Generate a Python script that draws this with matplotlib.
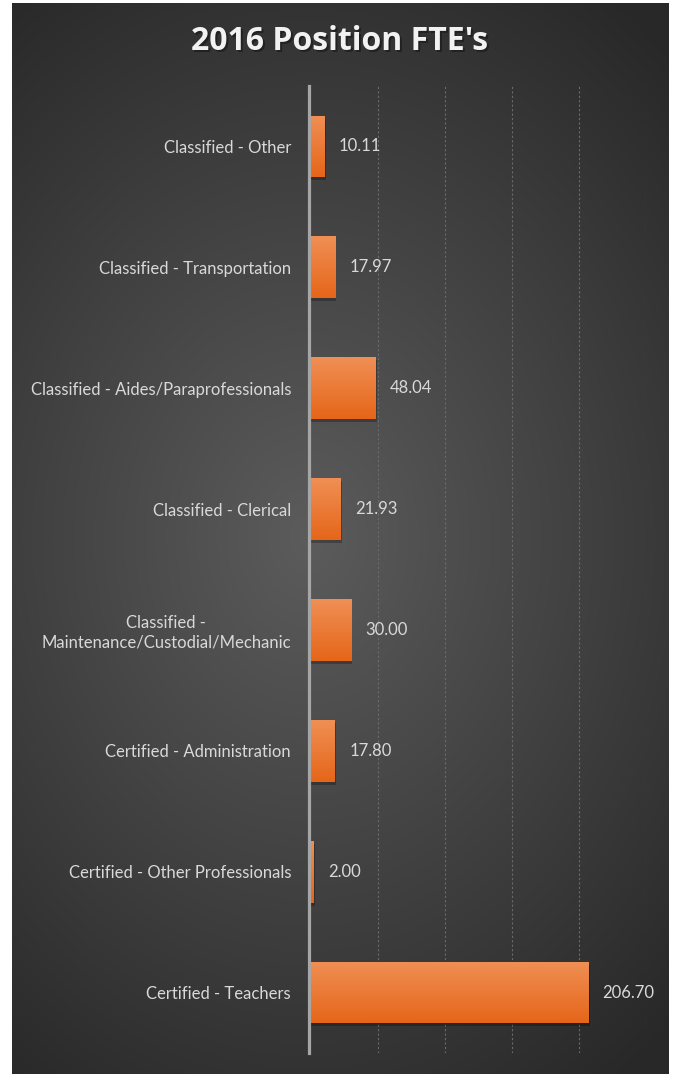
import matplotlib.pyplot as plt
import numpy as np

# data (bottom to top as drawn)
categories = ['Certified - Teachers', 'Certified - Other Professionals', 'Certified - Administration',
              'Classified -\nMaintenance/Custodial/Mechanic', 'Classified - Clerical',
              'Classified - Aides/Paraprofessionals', 'Classified - Transportation', 'Classified - Other']
fte = [206.70, 2.00, 17.80, 30.00, 21.93, 48.04, 17.97, 10.11]
grid_ticks = [50, 100, 150, 200, 250]

W, H = 675, 1074
fig = plt.figure(figsize=(W / 100, H / 100), dpi=100)
fig.patch.set_facecolor('white')

# dark panel with radial gradient
bg = fig.add_axes([12 / W, 0, (669 - 12) / W, (1074 - 3) / H])
bg.set_axis_off()
yy, xx = np.mgrid[0:1:400j, 0:1:250j]
r = np.sqrt(((xx - 0.45) / 0.8) ** 2 + ((yy - 0.5) / 0.62) ** 2)
r = np.clip(r, 0, 1)
shade = 0.36 - 0.20 * r
bg.imshow(np.dstack([shade, shade, shade]), aspect='auto', extent=[0, 1, 0, 1])
bg.set_xlim(0, 1)
bg.set_ylim(0, 1)

title = "2016 Position FTE's"
fig.text(0.503 + 2 / W, 1 - 44 / H, title, ha='center', va='center', fontsize=23,
         fontweight='bold', color='#1a1a1a', family='Open Sans', alpha=0.7)
fig.text(0.503, 1 - 42 / H, title, ha='center', va='center', fontsize=23,
         fontweight='bold', color='#f2f2f2', family='Open Sans')

# plot area
x0, x1 = 310.5, 646
y0, y1 = 86, 1053
ax = fig.add_axes([x0 / W, 1 - y1 / H, (x1 - x0) / W, (y1 - y0) / H])
ax.patch.set_alpha(0)

for g in grid_ticks:
    ax.axvline(g, color='#6a6a6a', lw=0.8, ls=(0, (2, 2)), zorder=1)

h = 0.51
grad = np.linspace(0, 1, 64).reshape(-1, 1)
top = np.array([0.94, 0.56, 0.33])
bot = np.array([0.90, 0.40, 0.10])
img = top[None, None, :] * (1 - grad[..., None]) + bot[None, None, :] * grad[..., None]
for i, v in enumerate(fte):
    # shadow
    ax.barh(i - 0.025, v + 1.2, height=h, left=0, color='black', alpha=0.25, zorder=2)
    bars = ax.barh(i, v, height=h, color='#ed7d31', zorder=3)
    im = ax.imshow(img, aspect='auto', extent=[0, v, i - h / 2, i + h / 2], zorder=3.5)
    im.set_clip_path(bars[0])
    ax.text(v + 11, i, f'{v:.2f}', ha='left', va='center', fontsize=12,
            color='#d9d9d9', family='Lato')
ax.set_xlim(0, 250)
ax.set_ylim(-0.5, len(categories) - 0.5)

ax.axvline(-1.1, color='#a6a6a6', lw=2.3, zorder=4, clip_on=False)

ax.set_yticks(range(len(categories)))
ax.set_yticklabels(categories, fontsize=12, color='#d9d9d9', family='Lato',
                   multialignment='center')
ax.tick_params(axis='y', length=0, pad=14)
ax.set_xticks([])
for s in ax.spines.values():
    s.set_visible(False)

fig.savefig('out.png', dpi=100, facecolor='white')
